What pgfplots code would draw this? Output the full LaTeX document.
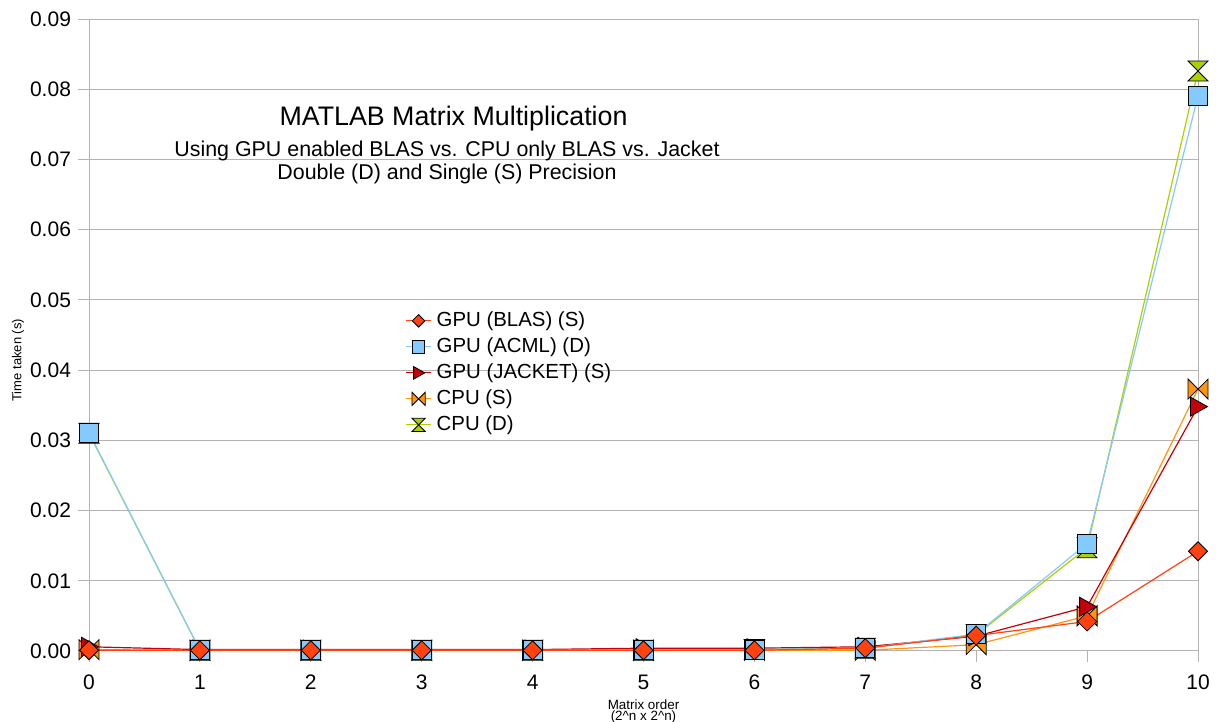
\documentclass[border=0pt]{standalone}
\usepackage{pgfplots}
\pgfplotsset{compat=1.18}
\usepackage{fontspec}
\setmainfont{Liberation Sans}
\definecolor{cblas}{HTML}{FF420E}
\definecolor{cacml}{HTML}{83CAFF}
\definecolor{cjack}{HTML}{C5000B}
\definecolor{ccpus}{HTML}{FF950E}
\definecolor{ccpud}{HTML}{AECF00}
\definecolor{cgrid}{HTML}{B3B3B3}
\pgfdeclareplotmark{mdiamond}{%
  \pgfpathmoveto{\pgfqpoint{0pt}{0.95\pgfplotmarksize}}%
  \pgfpathlineto{\pgfqpoint{0.95\pgfplotmarksize}{0pt}}%
  \pgfpathlineto{\pgfqpoint{0pt}{-0.95\pgfplotmarksize}}%
  \pgfpathlineto{\pgfqpoint{-0.95\pgfplotmarksize}{0pt}}%
  \pgfpathclose\pgfusepathqfillstroke}
\pgfdeclareplotmark{msquare}{%
  \pgfpathmoveto{\pgfqpoint{-0.95\pgfplotmarksize}{-0.95\pgfplotmarksize}}%
  \pgfpathlineto{\pgfqpoint{0.95\pgfplotmarksize}{-0.95\pgfplotmarksize}}%
  \pgfpathlineto{\pgfqpoint{0.95\pgfplotmarksize}{0.95\pgfplotmarksize}}%
  \pgfpathlineto{\pgfqpoint{-0.95\pgfplotmarksize}{0.95\pgfplotmarksize}}%
  \pgfpathclose\pgfusepathqfillstroke}
\pgfdeclareplotmark{mtriright}{%
  \pgfpathmoveto{\pgfqpoint{0.95\pgfplotmarksize}{0pt}}%
  \pgfpathlineto{\pgfqpoint{-0.75\pgfplotmarksize}{0.95\pgfplotmarksize}}%
  \pgfpathlineto{\pgfqpoint{-0.75\pgfplotmarksize}{-0.95\pgfplotmarksize}}%
  \pgfpathclose\pgfusepathqfillstroke}
\pgfdeclareplotmark{mbowtie}{%
  \pgfpathmoveto{\pgfqpoint{-\pgfplotmarksize}{\pgfplotmarksize}}%
  \pgfpathlineto{\pgfqpoint{\pgfplotmarksize}{-\pgfplotmarksize}}%
  \pgfpathlineto{\pgfqpoint{\pgfplotmarksize}{\pgfplotmarksize}}%
  \pgfpathlineto{\pgfqpoint{-\pgfplotmarksize}{-\pgfplotmarksize}}%
  \pgfpathclose\pgfusepathqfillstroke}
\pgfdeclareplotmark{mhourglass}{%
  \pgfpathmoveto{\pgfqpoint{-\pgfplotmarksize}{\pgfplotmarksize}}%
  \pgfpathlineto{\pgfqpoint{\pgfplotmarksize}{\pgfplotmarksize}}%
  \pgfpathlineto{\pgfqpoint{-\pgfplotmarksize}{-\pgfplotmarksize}}%
  \pgfpathlineto{\pgfqpoint{\pgfplotmarksize}{-\pgfplotmarksize}}%
  \pgfpathclose\pgfusepathqfillstroke}
\begin{document}
\begin{tikzpicture}
\begin{axis}[
  name=ax,
  scale only axis,
  width=554.5pt, height=316pt,
  xmin=0, xmax=10, ymin=0, ymax=0.09,
  xtick={0,1,...,10},
  ytick={0,0.01,0.02,0.03,0.04,0.05,0.06,0.07,0.08,0.09},
  scaled y ticks=false,
  yticklabel style={font=\fontsize{10.5}{12}\selectfont, /pgf/number format/.cd, fixed, fixed zerofill, precision=2, assume math mode=true},
  xticklabel style={font=\fontsize{10.5}{12}\selectfont, yshift=-3pt, /pgf/number format/assume math mode=true},
  xtick pos=bottom, ytick pos=left,
  tick align=outside, major tick length=5.5pt,
  tick style={cgrid, line width=0.5pt},
  axis line style={cgrid, line width=0.5pt},
  ymajorgrids, major grid style={cgrid, line width=0.5pt},
  clip=false,
  ylabel={Time taken (s)},
  ylabel style={at={(axis description cs:-0.064,0.46)}, anchor=center, font=\fontsize{6.5}{7.5}\selectfont},
  xlabel={Matrix order\\(2\textasciicircum n x 2\textasciicircum n)},
  xlabel style={at={(axis description cs:0.5,0)}, anchor=north, yshift=-21pt, align=center, font=\fontsize{6.7}{5.6}\selectfont},
  every axis plot/.append style={line width=0.6pt, mark size=5pt},
  reverse legend,
  legend style={at={(axis cs:2.85,0.04885)}, anchor=north west, draw=none, fill=none, inner sep=0pt,
    font=\fontsize{10.2}{12}\selectfont, row sep=0.5pt,
    nodes={inner sep=1pt, text height=8pt, text depth=2.5pt},
    /tikz/every odd column/.append style={column sep=1.5pt}},
  legend cell align=left,
  legend image code/.code={\draw[mark size=3.3pt, mark repeat=2, mark phase=2] plot coordinates {(0cm,0cm)(0.22cm,0cm)(0.44cm,0cm)};},
]
\addplot[ccpud, mark=mhourglass, mark options={fill=ccpud, draw=black, line width=0.4pt, solid}] coordinates {
(0,0.0310)(1,0.0001)(2,0.0001)(3,0.0001)(4,0.0001)(5,0.0001)(6,0.0002)(7,0.0004)(8,0.0023)(9,0.0147)(10,0.0826)};
\addlegendentry{CPU (D)}
\addplot[ccpus, mark=mbowtie, mark options={fill=ccpus, draw=black, line width=0.4pt, solid}] coordinates {
(0,0.0002)(1,0.0001)(2,0.0001)(3,0.0001)(4,0.0001)(5,0.0001)(6,0.0001)(7,0.0001)(8,0.0009)(9,0.0050)(10,0.0373)};
\addlegendentry{CPU (S)}
\addplot[cjack, mark=mtriright, mark options={fill=cjack, draw=black, line width=0.4pt, solid}] coordinates {
(0,0.0006)(1,0.0002)(2,0.0002)(3,0.0002)(4,0.0002)(5,0.0004)(6,0.0004)(7,0.0006)(8,0.0021)(9,0.0063)(10,0.0348)};
\addlegendentry{GPU (JACKET) (S)}
\addplot[cacml, mark=msquare, mark options={fill=cacml, draw=black, line width=0.4pt, solid}] coordinates {
(0,0.0311)(1,0.0001)(2,0.0001)(3,0.0001)(4,0.0001)(5,0.0001)(6,0.0002)(7,0.0004)(8,0.0024)(9,0.0153)(10,0.0791)};
\addlegendentry{GPU (ACML) (D)}
\addplot[cblas, mark=mdiamond, mark options={fill=cblas, draw=black, line width=0.4pt, solid}] coordinates {
(0,0.0001)(1,0.0001)(2,0.0001)(3,0.0001)(4,0.0001)(5,0.0001)(6,0.0001)(7,0.0004)(8,0.0022)(9,0.0042)(10,0.0142)};
\addlegendentry{GPU (BLAS) (S)}
\node[anchor=base, inner sep=0pt, font=\fontsize{13.4}{16}\selectfont] at (axis cs:3.287,0.07490) {MATLAB Matrix Multiplication};
\node[anchor=base, inner sep=0pt, font=\fontsize{10.7}{12}\selectfont] at (axis cs:3.228,0.07035) {Using GPU enabled BLAS vs. CPU only BLAS vs. Jacket};
\node[anchor=base, inner sep=0pt, font=\fontsize{10.7}{12}\selectfont] at (axis cs:3.228,0.06708) {Double (D) and Single (S) Precision};
\end{axis}
\pgfresetboundingbox
\path ([shift={(-44.5pt,-35.5pt)}]ax.south west) rectangle ([shift={(9pt,9.5pt)}]ax.north east);
\end{tikzpicture}
\end{document}
